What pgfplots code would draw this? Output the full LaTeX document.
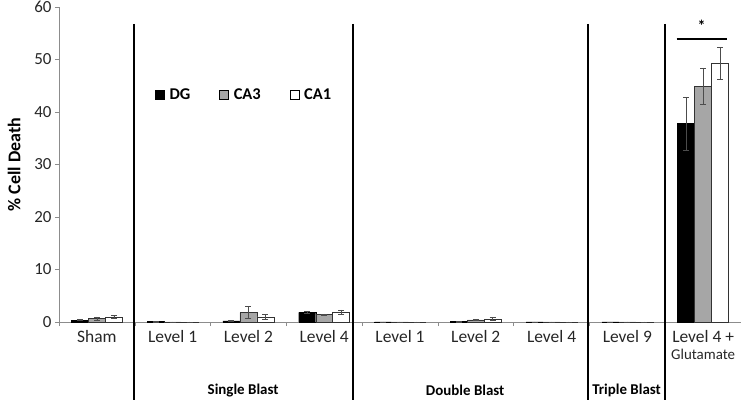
\documentclass[border=0pt]{standalone}
\usepackage{pgfplots}
\pgfplotsset{compat=1.18}
\usepackage{pgfplotstable}
\usepackage{fontspec}
\setmainfont{Carlito}
\definecolor{axgray}{HTML}{8C8C8C}
\definecolor{bargray}{HTML}{A6A6A6}
\pgfplotstableread{
x DG DGe CA3 CA3e CA1 CA1e
0 0.35 0.1 0.7 0.3 0.95 0.3
1 0.1 0.05 0.03 0 0.03 0
2 0.2 0.05 1.8 1.15 1.0 0.4
3 1.85 0.2 1.4 0.15 1.85 0.45
4 0.03 0 0.03 0 0.03 0
5 0.1 0.05 0.4 0.1 0.6 0.3
6 0.03 0 0.03 0 0.03 0
7 0.03 0 0.03 0 0.03 0
8 37.8 5.0 44.9 3.5 49.3 3.0
}\data
\begin{document}
\begin{tikzpicture}
\begin{axis}[
  scale only axis, width=682bp, height=315bp,
  xmin=-0.5, xmax=8.5, ymin=0, ymax=60,
  clip=false,
  axis x line*=bottom, axis y line*=left,
  axis line style={axgray},
  every tick/.style={axgray},
  tick align=outside,
  xtick={0,...,8},
  xticklabels={Sham,Level 1,Level 2,Level 4,Level 1,Level 2,Level 4,Level 9,{Level 4 +\\[-1bp]{\fontsize{15}{16}\selectfont Glutamate}}},
  xticklabel style={align=center, font=\fontsize{17.5}{18}\selectfont, text=black!85, yshift=-1bp},
  major x tick style={draw=none},
  minor xtick={-0.5,0.5,...,8.5},
  minor tick length=4bp,
  major tick length=4bp,
  ytick={0,10,...,60},
  yticklabel style={font=\fontsize{17}{18}\selectfont, text=black!85},
  /pgf/number format/assume math mode=true,
  ylabel={\bfseries \% Cell Death},
  ylabel style={font=\fontsize{18}{19}\selectfont, yshift=7bp},
  legend style={at={(axis cs:0.767,43.2)}, anchor=west, draw=none, fill=none, inner sep=0pt,
    legend columns=3, font=\bfseries\fontsize{16.5}{17}\selectfont,
    /tikz/every odd column/.append style={column sep=3bp},
    /tikz/every even column/.append style={column sep=27bp}},
  legend image code/.code={\draw[#1, draw=black, line width=0.4pt] (0bp,-4.5bp) rectangle (9bp,4.5bp);},
]
\addplot[ybar, bar width=0.224, bar shift=0, fill=black, draw=black, line width=0.4pt,
  error bars/.cd, y dir=both, y explicit, error bar style={black!70, line width=0.5pt},
  error mark options={rotate=90, mark size=3bp, black!70}]
  table[x expr=\thisrow{x}-0.224, y=DG, y error=DGe]{\data};
\addlegendentry{DG}
\addplot[ybar, bar width=0.224, bar shift=0, fill=bargray, draw=black!80, line width=0.4pt,
  error bars/.cd, y dir=both, y explicit, error bar style={black!70, line width=0.5pt},
  error mark options={rotate=90, mark size=3bp, black!70}]
  table[x=x, y=CA3, y error=CA3e]{\data};
\addlegendentry{CA3}
\addplot[ybar, bar width=0.224, bar shift=0, fill=white, draw=black!80, line width=0.4pt,
  error bars/.cd, y dir=both, y explicit, error bar style={black!70, line width=0.5pt},
  error mark options={rotate=90, mark size=3bp, black!70}]
  table[x expr=\thisrow{x}+0.224, y=CA1, y error=CA1e]{\data};
\addlegendentry{CA1}
% separators
\addplot[forget plot, sharp plot, black, line width=2pt] coordinates {(0.49,56.8) (0.49,-14.9)};
\addplot[forget plot, sharp plot, black, line width=2pt] coordinates {(3.38,56.8) (3.38,-14.9)};
\addplot[forget plot, sharp plot, black, line width=2pt] coordinates {(6.48,56.8) (6.48,-14.9)};
\addplot[forget plot, sharp plot, black, line width=2pt] coordinates {(7.50,56.8) (7.50,-14.9)};
% significance
\addplot[forget plot, sharp plot, black, line width=2.2pt] coordinates {(7.65,53.9) (8.31,53.9)};
\node[font=\bfseries\fontsize{16}{17}\selectfont] at (axis cs:7.98,56.4) {*};
% group labels
\node[font=\bfseries\fontsize{15}{16}\selectfont] at (axis cs:1.93,-13.1) {Single Blast};
\node[font=\bfseries\fontsize{15}{16}\selectfont] at (axis cs:4.86,-13.1) {Double Blast};
\node[font=\bfseries\fontsize{15}{16}\selectfont] at (axis cs:6.99,-13.1) {Triple Blast};
\coordinate (BL) at (axis cs:-1.278,-15.62);
\coordinate (TR) at (axis cs:8.5,61.33);
\end{axis}
\pgfresetboundingbox
\path[use as bounding box] (BL) rectangle (TR);
\end{tikzpicture}
\end{document}
